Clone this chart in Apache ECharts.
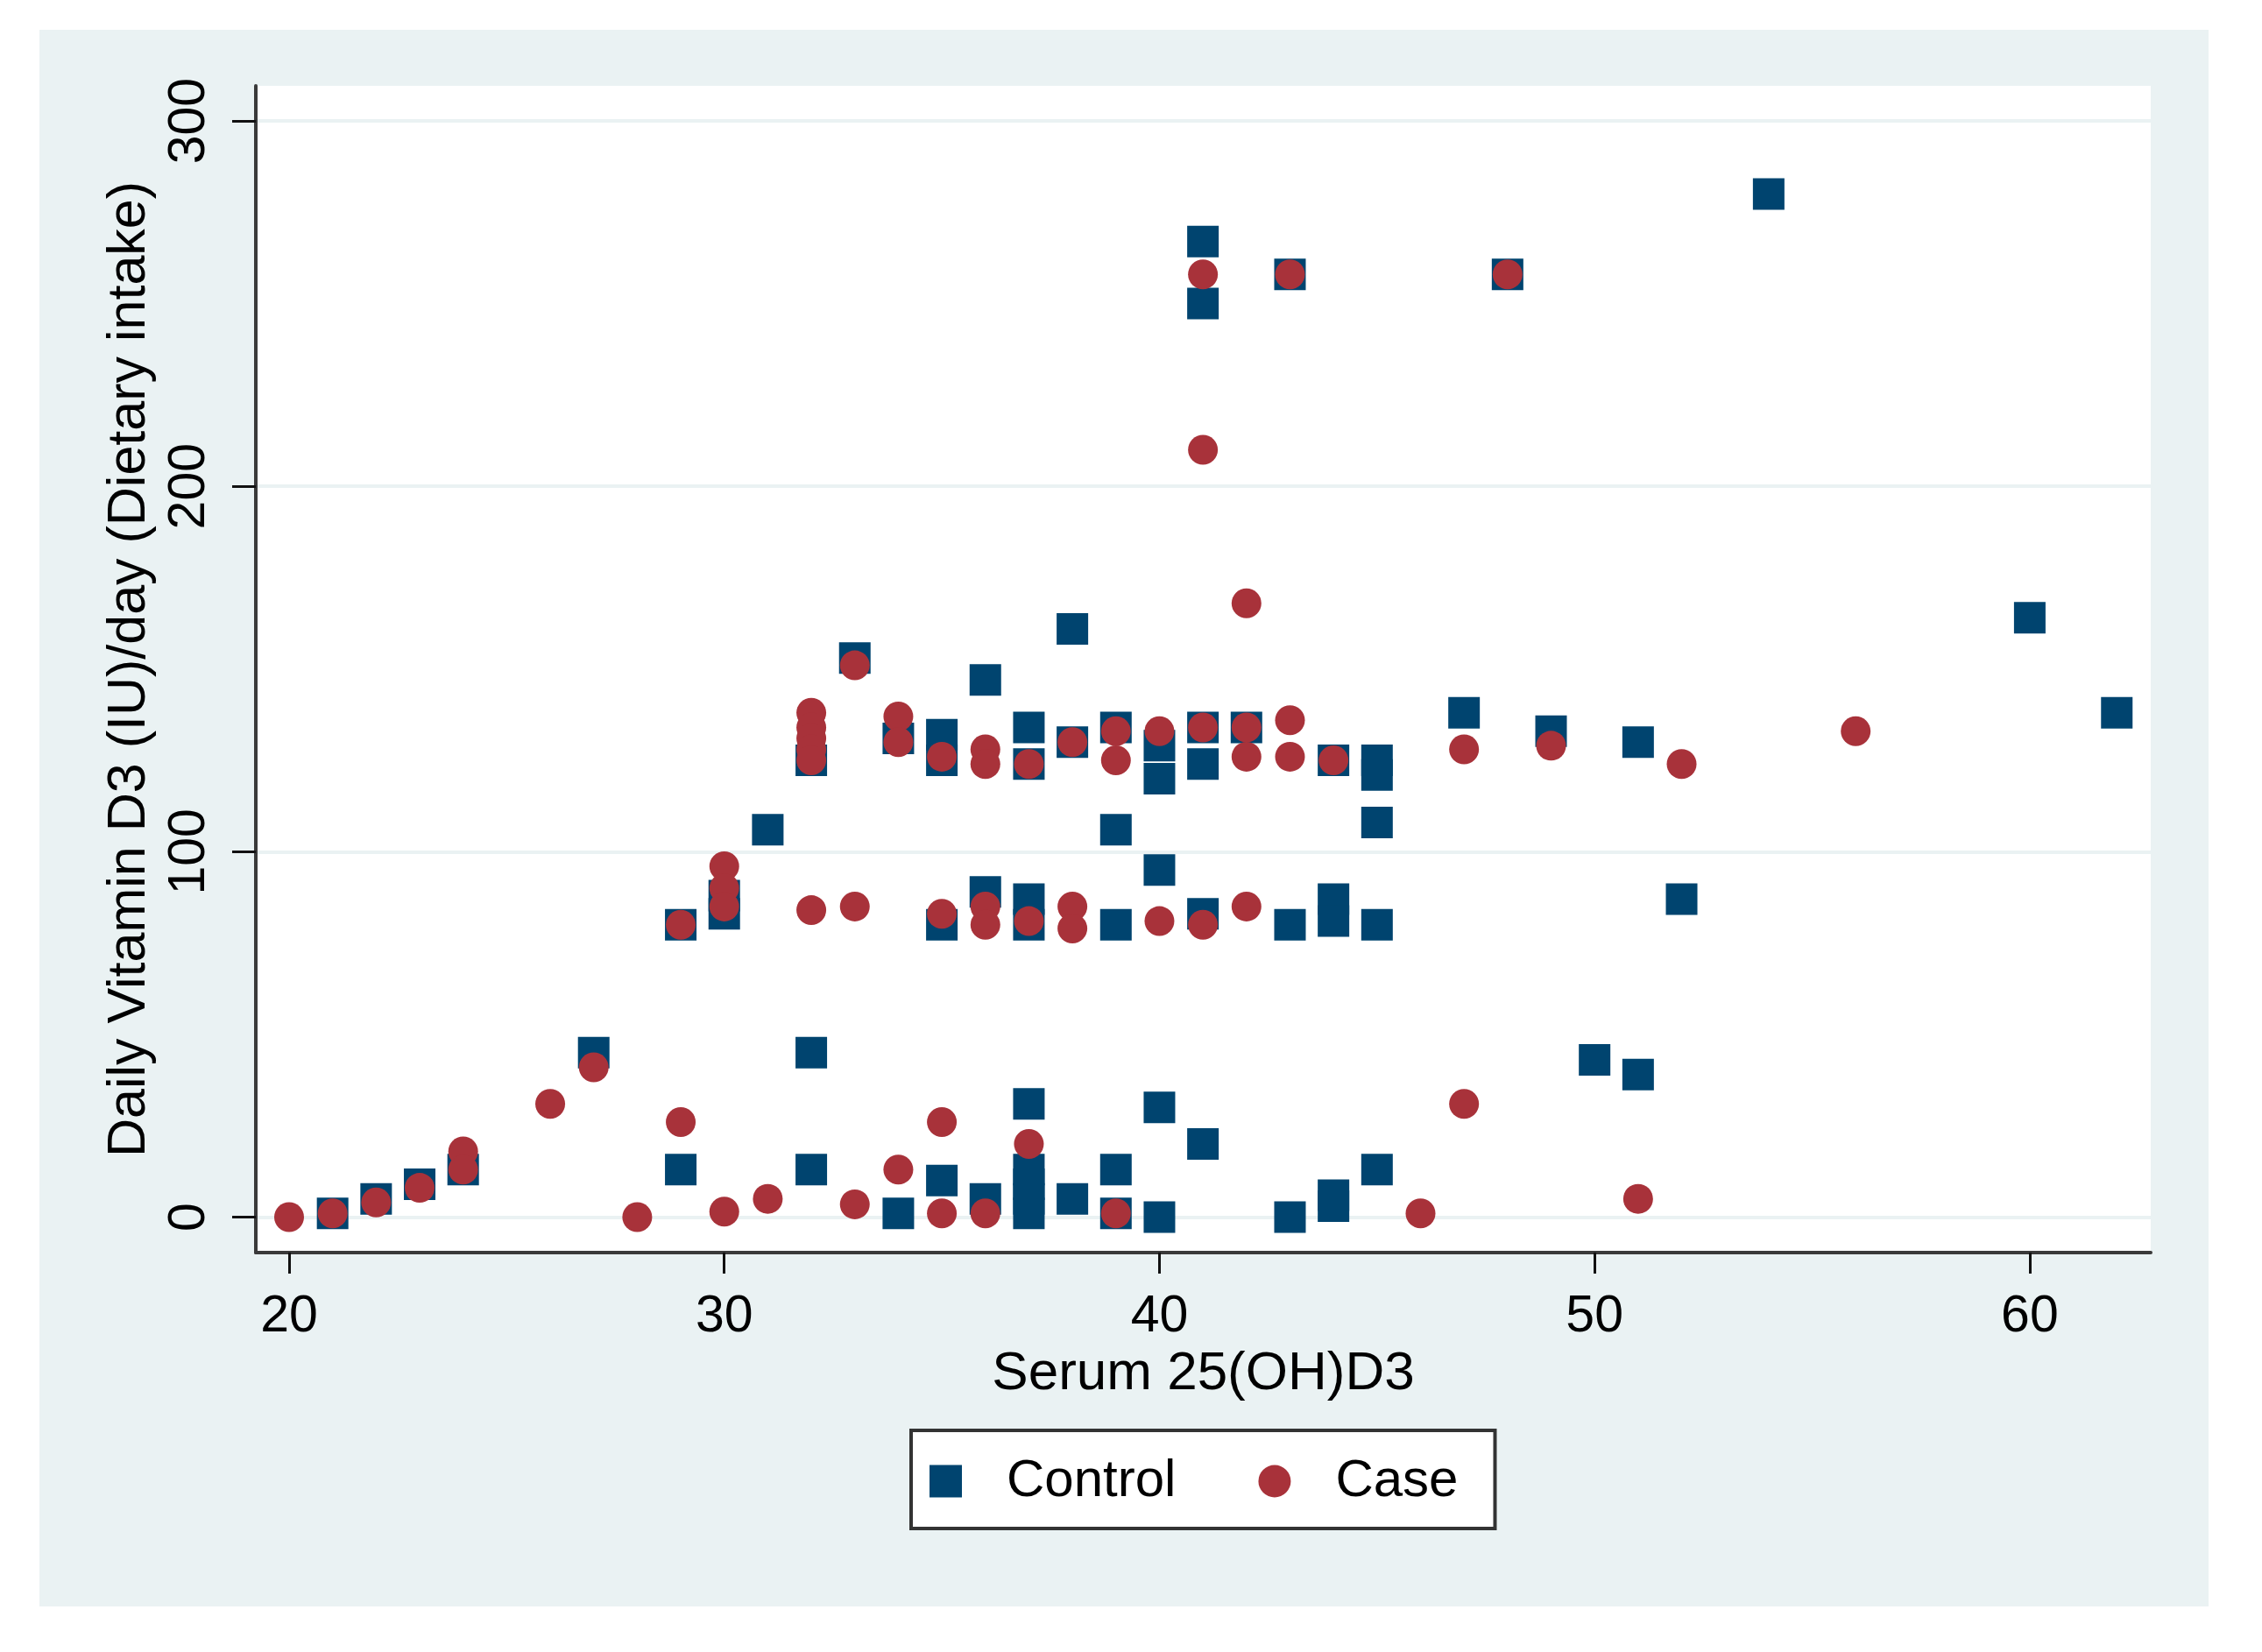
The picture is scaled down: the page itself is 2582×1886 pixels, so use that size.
<!DOCTYPE html>
<html>
<head>
<meta charset="utf-8">
<title>Serum 25(OH)D3 vs daily vitamin D3 intake</title>
<script src="https://cdn.jsdelivr.net/npm/echarts@6/dist/echarts.min.js"></script>
<style>
    html, body { margin: 0; padding: 0; background: #fff; }
    #chart { width: 2582px; height: 1886px; }
</style>
</head>
<body>
<div id="chart"></div>
<script>
// ============ 数据 ============
// [Serum 25(OH)D3, Daily Vitamin D3 IU/day]
const controlPoints = [
    [21, 1], [22, 5], [23, 9], [24, 13], [27, 45], [29, 80], [29, 13],
    [30, 88], [30, 83], [31, 106], [32, 125], [32, 45], [32, 13], [33, 153],
    [34, 131], [34, 1], [35, 132], [35, 125], [35, 80], [35, 10],
    [36, 147], [36, 89], [36, 5],
    [37, 134], [37, 124], [37, 87], [37, 80], [37, 31], [37, 13], [37, 9], [37, 5], [37, 1],
    [38, 161], [38, 130], [38, 5],
    [39, 134], [39, 106], [39, 80], [39, 13], [39, 1],
    [40, 129], [40, 120], [40, 95], [40, 30], [40, 0],
    [41, 267], [41, 250], [41, 134], [41, 124], [41, 83], [41, 20],
    [42, 134], [43, 258], [43, 80], [43, 0],
    [44, 125], [44, 87], [44, 81], [44, 6], [44, 3],
    [45, 125], [45, 121], [45, 108], [45, 80], [45, 13],
    [47, 138], [48, 258], [49, 133], [50, 43], [51, 130], [51, 39],
    [52, 87], [54, 280], [60, 164], [62, 138]
];
const casePoints = [
    [20, 0], [21, 1], [22, 4], [23, 8], [24, 18], [24, 13], [26, 31], [27, 41],
    [28, 0], [29, 80], [29, 26], [30, 96], [30, 90], [30, 85], [30, 1.5], [31, 5],
    [32, 138], [32, 134], [32, 131], [32, 128], [32, 125], [32, 84],
    [33, 151], [33, 85], [33, 3.5], [34, 137], [34, 130], [34, 13],
    [35, 126], [35, 83], [35, 26], [35, 1],
    [36, 128], [36, 124], [36, 85], [36, 80], [36, 1],
    [37, 124], [37, 81], [37, 20], [38, 130], [38, 85], [38, 79],
    [39, 133], [39, 125], [39, 1], [40, 133], [40, 81],
    [41, 258], [41, 210], [41, 134], [41, 80],
    [42, 168], [42, 134], [42, 126], [42, 85],
    [43, 258], [43, 136], [43, 126], [44, 125], [46, 1],
    [47, 128], [47, 31], [48, 258], [49, 129], [51, 5], [52, 124], [56, 133]
];
const xTicks = [20, 30, 40, 50, 60];
const yTicks = [0, 100, 200, 300];

// ============ 样式 ============
const FONT = "'Liberation Sans', Arial, sans-serif";
const NAVY = '#00446f';
const MAROON = '#a8323a';
const AXIS_COLOR = '#3a3a3a';
const PANEL_BG = '#eaf2f3';

const chart = echarts.init(document.getElementById('chart'));

chart.setOption({
    backgroundColor: '#ffffff',
    animation: false,
    textStyle: { fontFamily: FONT },
    graphic: {
        elements: [{
            type: 'rect',
            z: -10,
            silent: true,
            shape: { x: 45, y: 34, width: 2476, height: 1800 },
            style: { fill: PANEL_BG }
        }]
    },
    grid: {
        left: 292, right: 127, top: 98, bottom: 456,
        show: true,
        backgroundColor: '#ffffff',
        borderWidth: 0,
        outerBoundsMode: 'none'
    },
    legend: {
        left: 1040,
        top: 1633,
        orient: 'horizontal',
        backgroundColor: '#ffffff',
        borderColor: '#333333',
        borderWidth: 4,
        borderRadius: 0,
        padding: [28, 42, 24, 21],
        itemWidth: 37,
        itemHeight: 37,
        itemGap: 94,
        textStyle: {
            fontFamily: FONT, fontSize: 60, color: '#000',
            lineHeight: 38, padding: [0, 0, 0, 46]
        },
        data: [
            { name: 'Control', icon: 'rect' },
            { name: 'Case', icon: 'circle' }
        ]
    },
    xAxis: {
        type: 'value',
        min: 19.235,
        max: 62.78,
        name: 'Serum 25(OH)D3',
        nameLocation: 'middle',
        nameGap: 102,
        nameTextStyle: { fontFamily: FONT, fontSize: 62, color: '#000' },
        axisLine: { show: true, onZero: false, lineStyle: { color: AXIS_COLOR, width: 4 } },
        axisTick: {
            show: true, inside: false, length: 24,
            customValues: xTicks,
            lineStyle: { color: '#111', width: 3 }
        },
        axisLabel: {
            show: true, margin: 44,
            customValues: xTicks,
            showMinLabel: true, showMaxLabel: true,
            fontFamily: FONT, fontSize: 59, color: '#000'
        },
        splitLine: { show: false }
    },
    yAxis: {
        type: 'value',
        min: -9.71,
        max: 309.6,
        name: 'Daily Vitamin D3 (IU)/day (Dietary intake)',
        nameLocation: 'middle',
        nameGap: 100,
        nameTextStyle: { fontFamily: FONT, fontSize: 61, color: '#000' },
        axisLine: { show: true, onZero: false, lineStyle: { color: AXIS_COLOR, width: 4 } },
        axisTick: {
            show: true, inside: false, length: 27,
            customValues: yTicks,
            lineStyle: { color: '#111', width: 3 }
        },
        axisLabel: {
            show: true, margin: 46, rotate: 90,
            customValues: yTicks,
            showMinLabel: true, showMaxLabel: true,
            fontFamily: FONT, fontSize: 59, color: '#000'
        },
        splitLine: { show: true, lineStyle: { color: PANEL_BG, width: 4 } }
    },
    series: [
        {
            name: 'Control',
            type: 'scatter',
            symbol: 'rect',
            symbolSize: 36,
            data: controlPoints,
            itemStyle: { color: NAVY, opacity: 1 },
            z: 2
        },
        {
            name: 'Case',
            type: 'scatter',
            symbol: 'circle',
            symbolSize: 34,
            data: casePoints,
            itemStyle: { color: MAROON, opacity: 1 },
            z: 3
        }
    ]
});
</script>
</body>
</html>
